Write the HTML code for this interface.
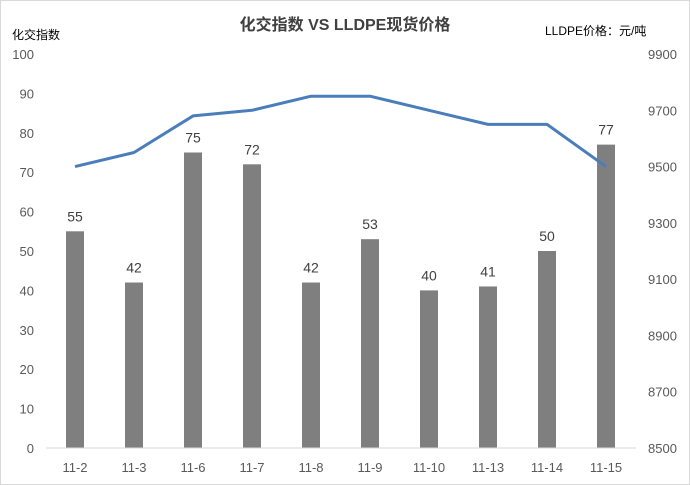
<!DOCTYPE html>
<html><head><meta charset="utf-8">
<style>
body{margin:0;background:#fff;}
svg{display:block;font-family:"Liberation Sans","Noto Sans CJK SC",sans-serif;}
</style></head>
<body>
<svg id="chart" width="690" height="485">
<rect x="0.5" y="0.5" width="689" height="484" fill="#fff" stroke="#d9d9d9"/>
<text x="345" y="30" text-anchor="middle" font-size="16" font-weight="bold" fill="#404040">化交指数 VS LLDPE现货价格</text>
<text x="12" y="39" font-size="12" fill="#000">化交指数</text>
<text x="545" y="35" font-size="12" fill="#000">LLDPE价格：元/吨</text>
<g id="grid"></g><g id="bars"></g><g id="line"></g><g id="labels"></g><g id="axes"></g>
</svg>
<script>
const categories=["11-2","11-3","11-6","11-7","11-8","11-9","11-10","11-13","11-14","11-15"];
const indexValues=[55,42,75,72,42,53,40,41,50,77];
const priceValues=[9500,9550,9680,9700,9750,9750,9700,9650,9650,9500];
const leftTicks=[0,10,20,30,40,50,60,70,80,90,100];
const rightTicks=[8500,8700,8900,9100,9300,9500,9700,9900];
const NS="http://www.w3.org/2000/svg";
const plotTop=54,plotBottom=448,x0=75,step=59;
const yL=v=>plotBottom-(v/100)*(plotBottom-plotTop);
const yR=v=>plotBottom-((v-8500)/1400)*(plotBottom-plotTop);
const xC=i=>x0+i*step;
function mk(t,a,p){const e=document.createElementNS(NS,t);for(const k in a)e.setAttribute(k,a[k]);p.appendChild(e);return e;}
const axes=document.getElementById('axes');
leftTicks.forEach(v=>{const t=mk('text',{x:34,y:yL(v)+5,'text-anchor':'end','font-size':13,fill:'#595959'},axes);t.textContent=v;

});
rightTicks.forEach(v=>{const t=mk('text',{x:648,y:yR(v)+5,'font-size':13,fill:'#595959'},axes);t.textContent=v;

});
const ax=mk('line',{x1:46,x2:636,y1:plotBottom,y2:plotBottom,stroke:'#d9d9d9'},axes);


const bars=document.getElementById('bars'),labels=document.getElementById('labels');
categories.forEach((c,i)=>{
 const r=mk('rect',{x:xC(i)-9,y:yL(indexValues[i]),width:18,height:plotBottom-yL(indexValues[i]),fill:'#7f7f7f'},bars);
 
 
 const l=mk('text',{x:xC(i),y:yL(indexValues[i])-10,'text-anchor':'middle','font-size':14,fill:'#404040'},labels);l.textContent=indexValues[i];
 
 
 const xl=mk('text',{x:xC(i),y:472,'text-anchor':'middle','font-size':13,fill:'#595959'},axes);xl.textContent=c;
 
 
});
const pts=priceValues.map((v,i)=>xC(i)+','+yR(v)).join(' ');
const pl=mk('polyline',{points:pts,fill:'none',stroke:'#4a7ebb','stroke-width':3,'stroke-linejoin':'round'},document.getElementById('line'));


</script>
</body></html>
